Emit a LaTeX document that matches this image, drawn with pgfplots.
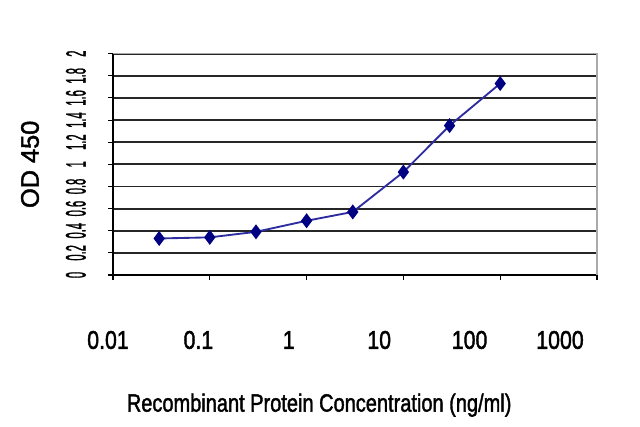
\documentclass[border=0pt]{standalone}
\usepackage{pgfplots}
\pgfplotsset{compat=1.18}
\usepackage{fontspec}
\setmainfont{Liberation Sans}[BoldFont={Liberation Sans}, BoldFeatures={FakeBold=1.8}]
\definecolor{odline}{RGB}{45,45,160}
\definecolor{odmark}{RGB}{0,0,130}
\definecolor{frame}{RGB}{170,170,170}
\begin{document}
\begin{tikzpicture}
\useasboundingbox (0,0) rectangle (480pt,320.25pt);
\begin{axis}[
    at={(84.75pt,114pt)}, anchor=south west,
    scale only axis, width=363pt, height=166pt,
    xmode=log, xmin=0.01, xmax=1000,
    ymin=0, ymax=2,
    xtick={0.01,0.1,1,10,100,1000},
    xticklabels={0.01,0.1,1,10,100,1000},
    xminorticks=false, log ticks with fixed point,
    ytick={0,0.2,0.4,0.6,0.8,1,1.2,1.4,1.6,1.8,2},
    yticklabels={0,0.2,0.4,0.6,0.8,1,1.2,1.4,1.6,1.8,2},
    axis x line*=bottom, axis y line*=left,
    axis line style={black, line width=1pt},
    tick align=outside, major tick length=3.75pt,
    tick style={black, line width=0.8pt},
    xtick pos=bottom, ytick pos=left,
    ymajorgrids, grid style={black!85, line width=1.4pt},
    xticklabel style={font=\fontsize{16}{16}\selectfont\bfseries, yscale=1.2, anchor=center, yshift=-37.5pt, xshift={-3.75pt-4.8pt*\ticknum}},
    yticklabel shift=16.5pt,
    yticklabel style={font=\fontsize{21}{21}\selectfont\bfseries, rotate=90, xscale=0.4, anchor=south, inner sep=0pt},
    xlabel={Recombinant Protein Concentration (ng/ml)},
    xlabel style={font=\fontsize{15}{15}\selectfont\bfseries, yscale=1.25, at={(axis description cs:0.426,-0.588)}, anchor=center},
    ylabel={OD 450},
    ylabel style={font=\fontsize{19}{19}\selectfont\bfseries, at={(axis description cs:-0.1715,0.5)}, anchor=center, rotate=0},
    clip=false,
]
\draw[frame, line width=0.8pt] (rel axis cs:0,1) -- (rel axis cs:1,1) -- (rel axis cs:1,0);
\addplot[odline, line width=1.4pt, mark=diamond*, mark size=4.5pt, mark options={fill=odmark, draw=odmark}] coordinates {
    (0.03,0.33) (0.1,0.34) (0.3,0.39) (1,0.49) (3,0.57) (10,0.93) (30,1.35) (100,1.73)
};
\end{axis}
\end{tikzpicture}
\end{document}
